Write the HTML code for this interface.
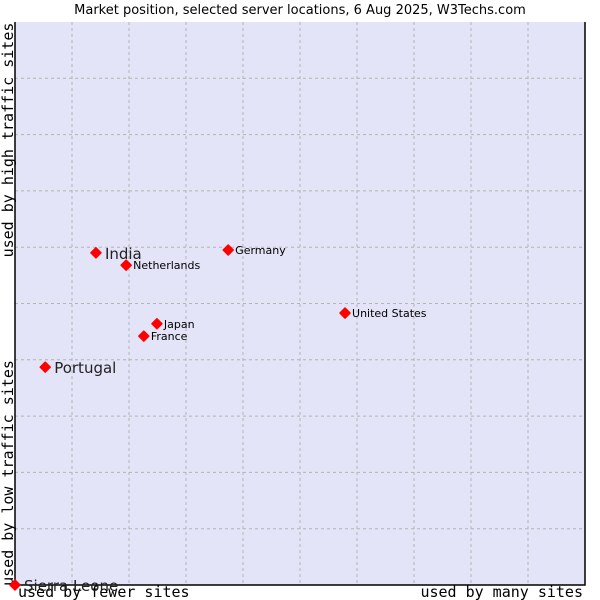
<!DOCTYPE html>
<html><head><meta charset="utf-8"><style>
body{margin:0;background:#fff;}
svg{display:block;}
</style></head><body>
<svg id="chart" width="600" height="600" xmlns="http://www.w3.org/2000/svg">
<text x="300" y="14" text-anchor="middle" font-family="DejaVu Sans, sans-serif" font-size="13" fill="#000">Market position, selected server locations, 6 Aug 2025, W3Techs.com</text>
<rect x="15" y="22" width="570" height="563" fill="#e3e4f7"/>
<g id="grid"></g>
<path d="M15,22 V585 H585 V22" fill="none" stroke="#000" stroke-width="1.5"/>
<text transform="translate(13,140) rotate(-90)" text-anchor="middle" font-family="DejaVu Sans Mono, monospace" font-size="15">used by high traffic sites</text>
<text transform="translate(13,473) rotate(-90)" text-anchor="middle" font-family="DejaVu Sans Mono, monospace" font-size="15">used by low traffic sites</text>
<text x="18" y="597" font-family="DejaVu Sans Mono, monospace" font-size="15">used by fewer sites</text>
<text x="583" y="597" text-anchor="end" font-family="DejaVu Sans Mono, monospace" font-size="15">used by many sites</text>
<g id="points"></g>
</svg>
<script>
const countries = ["Sierra Leone","Portugal","India","Netherlands","Germany","Japan","France","United States"];
const xValues = [0, 5.3, 14.2, 19.5, 37.4, 24.9, 22.6, 57.9];
const yValues = [0, 38.7, 59.0, 56.8, 59.5, 46.4, 44.2, 48.3];
const bigLabel = [true, true, true, false, false, false, false, false];
const gridTicks = [10,20,30,40,50,60,70,80,90];
const NS = "http://www.w3.org/2000/svg";
const xs = v => 15 + v * 5.7;
const ys = v => 585 - v * 5.63;
const grid = document.getElementById('grid');
gridTicks.forEach(t => {
  const v = document.createElementNS(NS,'line');
  v.setAttribute('x1', xs(t)); v.setAttribute('x2', xs(t));
  v.setAttribute('y1', 22); v.setAttribute('y2', 585);
  v.setAttribute('stroke', '#b4b4b4'); v.setAttribute('stroke-dasharray', '3,3');
  
  
  grid.appendChild(v);
  const h = document.createElementNS(NS,'line');
  h.setAttribute('y1', ys(t)); h.setAttribute('y2', ys(t));
  h.setAttribute('x1', 15); h.setAttribute('x2', 585);
  h.setAttribute('stroke', '#b4b4b4'); h.setAttribute('stroke-dasharray', '3,3');
  
  
  grid.appendChild(h);
});
const pts = document.getElementById('points');
countries.forEach((c, i) => {
  const x = xs(xValues[i]), y = ys(yValues[i]);
  const m = document.createElementNS(NS,'path');
  m.setAttribute('d', `M${x},${y-5} L${x+5},${y} L${x},${y+5} L${x-5},${y} Z`);
  m.setAttribute('fill', '#ff0000');
  m.setAttribute('stroke', '#ff0000'); m.setAttribute('stroke-linejoin', 'round'); m.setAttribute('stroke-width','1.5');
  
  
  pts.appendChild(m);
  const t = document.createElementNS(NS,'text');
  t.setAttribute('x', x + (bigLabel[i] ? 9 : 7));
  t.setAttribute('y', y + (bigLabel[i] ? 6 : 4));
  t.setAttribute('font-family', 'DejaVu Sans, sans-serif');
  t.setAttribute('font-size', bigLabel[i] ? 15 : 11);
  t.setAttribute('fill', bigLabel[i] ? '#222' : '#000');
  t.textContent = c;
  
  
  pts.appendChild(t);
});
</script>
</body></html>
